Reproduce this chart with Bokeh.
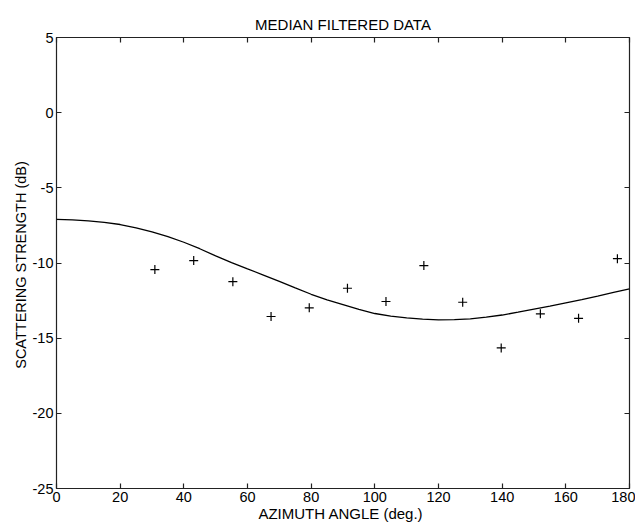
from bokeh.plotting import figure
from bokeh.models import LinearAxis, Range1d, FixedTicker
from bokeh.embed import file_html
from bokeh.resources import INLINE

# Median filtered measurements (plus markers)
angle_pts = [30.9, 43.1, 55.4, 67.4, 79.4, 91.4, 103.5, 115.4, 127.6, 139.7, 152.0, 164.0, 176.2]
strength_pts = [-10.44, -9.84, -11.24, -13.56, -12.98, -11.68, -12.56, -10.17, -12.61, -15.65, -13.38, -13.68, -9.71]

# Model curve
curve_angle = [0, 5, 10, 15, 20, 25, 30, 35, 40, 45, 50, 55, 60, 65, 70, 75, 80, 85, 90,
               95, 100, 105, 110, 115, 120, 125, 130, 135, 140, 145, 150, 155, 160, 165, 170, 175, 180]
curve_strength = [-7.10, -7.13, -7.20, -7.30, -7.44, -7.66, -7.93, -8.25, -8.62, -9.05, -9.53, -9.97,
                  -10.39, -10.80, -11.22, -11.66, -12.08, -12.45, -12.77, -13.09, -13.36, -13.53,
                  -13.65, -13.74, -13.78, -13.77, -13.72, -13.60, -13.46, -13.27, -13.07, -12.87,
                  -12.65, -12.43, -12.20, -11.96, -11.72]

x_ticks = [0, 20, 40, 60, 80, 100, 120, 140, 160, 180]
x_tick_labels = ["0", "20", "40", "60", "80", "100", "120", "140", "160", "180"]
y_ticks = [-25, -20, -15, -10, -5, 0, 5]
y_tick_labels = ["-25", "-20", "-15", "-10", "-5", "0", "5"]

FONT = "Liberation Sans"

p = figure(frame_width=573, frame_height=451,
           x_range=Range1d(0, 180), y_range=Range1d(-25, 5),
           output_backend="svg", toolbar_location=None,
           min_border_left=56, min_border_right=6, min_border_top=37, min_border_bottom=30,
           title="MEDIAN FILTERED DATA")

p.title.align = "center"
p.title.text_font = FONT
p.title.text_font_size = "15px"
p.title.text_font_style = "normal"
p.title.text_color = "black"
p.title.offset = 2

p.xgrid.visible = False
p.ygrid.visible = False
p.outline_line_color = "#222222"
p.outline_line_width = 1.2
p.background_fill_color = "white"
p.border_fill_color = "white"

def style_axis(ax, labels=True):
    ax.axis_line_color = None
    ax.major_tick_in = 5
    ax.major_tick_out = 0
    ax.major_tick_line_color = "#222222"
    ax.major_tick_line_width = 1.2
    ax.minor_tick_line_color = None
    if labels:
        ax.major_label_text_font = FONT
        ax.major_label_text_font_size = "14.5px"
        ax.major_label_text_color = "black"
        ax.axis_label_text_font = FONT
        ax.axis_label_text_font_size = "15px"
        ax.axis_label_text_font_style = "normal"
        ax.axis_label_text_color = "black"
    else:
        ax.major_label_text_font_size = "1px"
        ax.major_label_text_color = None
        ax.major_label_standoff = 0
        ax.axis_label = None

xa = p.xaxis[0]
xa.ticker = FixedTicker(ticks=x_ticks)
xa.major_label_overrides = dict(zip(x_ticks, x_tick_labels))
xa.axis_label = "AZIMUTH  ANGLE (deg.)"
style_axis(xa)
xa.major_label_standoff = 3
xa.axis_label_standoff = 0

ya = p.yaxis[0]
ya.ticker = FixedTicker(ticks=y_ticks)
ya.major_label_overrides = dict(zip(y_ticks, y_tick_labels))
ya.axis_label = "SCATTERING  STRENGTH (dB)"
style_axis(ya)
ya.axis_label_text_font_size = "14.5px"
ya.major_label_standoff = 3
ya.axis_label_standoff = 1

top = LinearAxis(ticker=FixedTicker(ticks=x_ticks))
style_axis(top, labels=False)
p.add_layout(top, "above")

right = LinearAxis(ticker=FixedTicker(ticks=y_ticks))
style_axis(right, labels=False)
p.add_layout(right, "right")

p.line(curve_angle, curve_strength, line_color="black", line_width=1.3)
p.scatter(angle_pts, strength_pts, marker="cross", size=9, line_color="black", line_width=1.2)

open("out.html", "w").write(file_html(p, INLINE))
